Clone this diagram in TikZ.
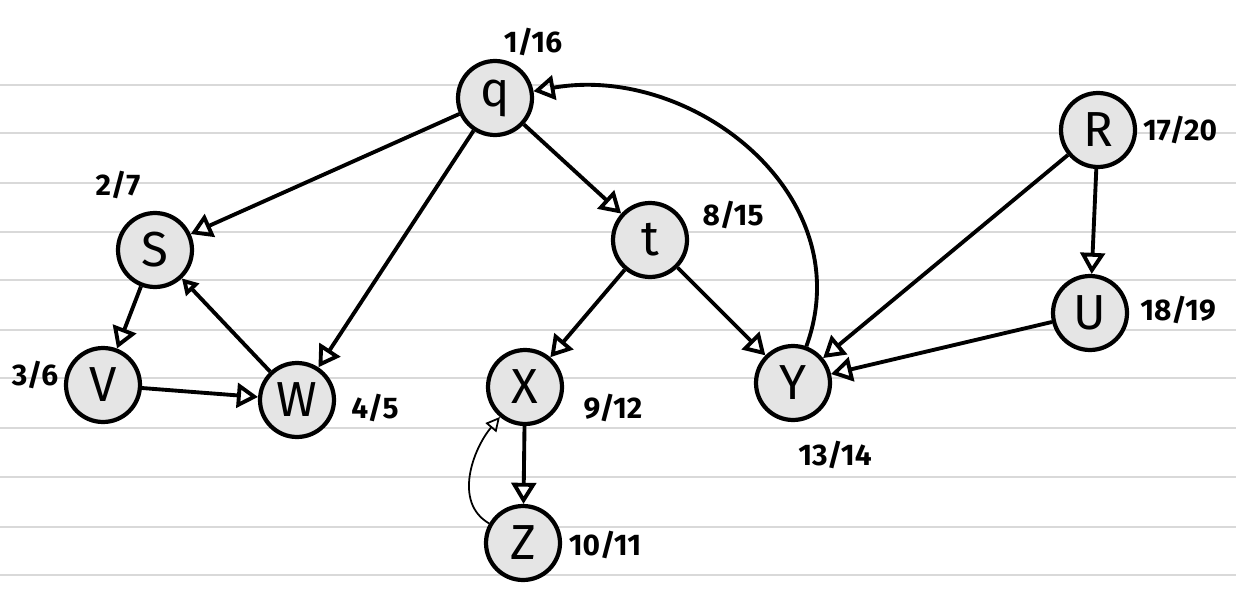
\documentclass[tikz,border=0pt]{standalone}
\usepackage{fontspec}
\setmainfont{Fira Sans}
\usetikzlibrary{arrows.meta}
\begin{document}
\begin{tikzpicture}[x=0.02cm,y=-0.02cm,
  vtx/.style={circle,draw,line width=2.4pt,fill=black!10,minimum size=1.48cm,inner sep=0pt,font=\fontsize{28}{28}\selectfont},
  lab/.style={font=\bfseries\fontsize{17}{17}\selectfont},
  edge/.style={line width=2.2pt,-{Triangle[open,length=12pt,width=14pt]}}]
\useasboundingbox (0,0) rectangle (1236,608);
\foreach \y in {85,133,183,232,280,330,378,428,477,527,575}
  \draw[black!15,line width=0.8pt] (0,\y) -- (1236,\y);
\node[vtx] (q) at (495,98) {q};
\node[vtx] (S) at (155,250) {S};
\node[vtx] (V) at (103,385) {V};
\node[vtx] (W) at (297,400) {W};
\node[vtx] (t) at (650,240) {t};
\node[vtx] (X) at (525,387) {X};
\node[vtx] (Z) at (523,543) {Z};
\node[vtx] (Y) at (793,383) {Y};
\node[vtx] (R) at (1098,130) {R};
\node[vtx] (U) at (1090,313) {U};
\node[lab] (lq) at (533,42) {1/16};
\node[lab] (lS) at (118,185) {2/7};
\node[lab] (lV) at (35,375) {3/6};
\node[lab] (lW) at (375,408) {4/5};
\node[lab] (lt) at (733,215) {8/15};
\node[lab] (lX) at (613,408) {9/12};
\node[lab] (lZ) at (605,545) {10/11};
\node[lab] (lY) at (835,455) {13/14};
\node[lab] (lR) at (1180,130) {17/20};
\node[lab] (lU) at (1178,310) {18/19};
\draw[edge] (q) -- (S);
\draw[edge] (q) -- (W);
\draw[edge] (q) -- (t);
\draw[edge] (Y) to[out=70,in=10,looseness=1.1] (q);
\draw[edge] (t) -- (X);
\draw[edge] (t) -- (Y);
\draw[edge] (S) -- (V);
\draw[line width=2.2pt,-{Triangle[open,length=9pt,width=10pt]}] (W) -- (S);
\draw[edge] (V) -- (W);
\draw[edge] (X) -- (Z);
\draw[line width=1pt,-{Triangle[open,length=8pt,width=8pt]}] (Z) to[out=150,in=230] (X);
\draw[edge] (R) -- (Y);
\draw[edge] (R) -- (U);
\draw[edge] (U) -- (Y);
\end{tikzpicture}
\end{document}
